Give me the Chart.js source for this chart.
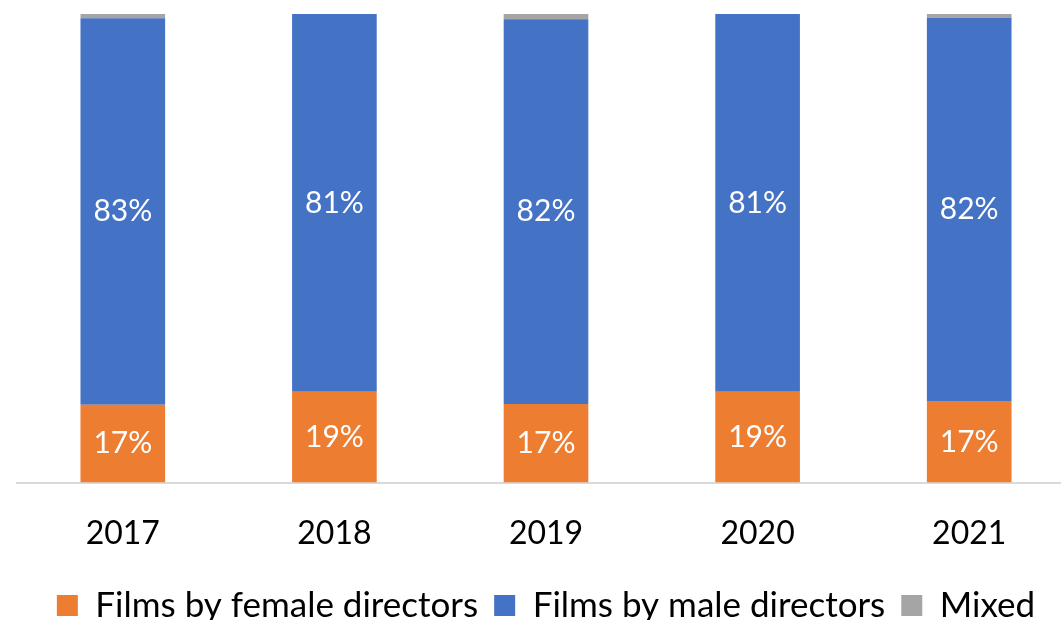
<!DOCTYPE html>
<html lang="en">
<head>
  <meta charset="UTF-8">
  <title>Films by director gender</title>
  <style>
    html, body {
      margin: 0;
      padding: 0;
      background: #fff;
      overflow: hidden;
    }
    .wrap {
      position: relative;
      width: 1092px;
      height: 633px;
    }
  </style>
  <script src="https://cdn.jsdelivr.net/npm/chart.js"></script>
</head>
<body>
  <div class="wrap">
    <canvas id="chart"></canvas>
  </div>
  <script>
    const years = ['2017', '2018', '2019', '2020', '2021'];
    const femaleShare = [16.6, 19.4, 16.8, 19.4, 17.4];
    const maleShare = [82.5, 80.6, 82.1, 80.6, 81.8];
    const mixedShare = [0.9, 0, 1.1, 0, 0.8];

    const FONT = 'Lato, "Open Sans", sans-serif';

    // white percentage labels in the middle of the big segments
    const barLabels = {
      id: 'barLabels',
      afterDatasetsDraw(chart) {
        const ctx = chart.ctx;
        ctx.save();
        ctx.font = '30px ' + FONT;
        ctx.fillStyle = '#ffffff';
        ctx.textAlign = 'center';
        ctx.textBaseline = 'middle';
        chart.data.datasets.forEach((ds, i) => {
          if (!ds.showLabels) return;
          chart.getDatasetMeta(i).data.forEach((bar, j) => {
            const p = bar.getProps(['x', 'y', 'base'], true);
            ctx.fillText(Math.round(ds.data[j]) + '%', p.x, (p.y + p.base) / 2);
          });
        });
        ctx.restore();
      }
    };

    new Chart(document.getElementById('chart'), {
      type: 'bar',
      data: {
        labels: years,
        datasets: [
          { label: 'Films by female directors', data: femaleShare, backgroundColor: '#ED7D31', showLabels: true },
          { label: 'Films by male directors', data: maleShare, backgroundColor: '#4472C4', showLabels: true },
          { label: 'Mixed', data: mixedShare, backgroundColor: '#A5A5A5', showLabels: false }
        ]
      },
      options: {
        responsive: true,
        maintainAspectRatio: false,
        animation: false,
        layout: { padding: { left: 17, right: 17, top: 14, bottom: 0 } },
        datasets: {
          bar: { barPercentage: 0.4, categoryPercentage: 1, borderWidth: 0 }
        },
        scales: {
          x: {
            stacked: true,
            grid: { display: false, drawTicks: false },
            border: { display: true, color: '#D9D9D9', width: 2 },
            ticks: { color: '#000', font: { family: FONT, size: 32 }, padding: 32 },
            // pull the legend a bit closer to the year labels
            afterFit(scale) { scale.height -= 13; }
          },
          y: {
            stacked: true,
            display: false,
            min: 0,
            max: 100
          }
        },
        plugins: {
          legend: {
            position: 'bottom',
            labels: {
              color: '#000',
              font: { family: FONT, size: 35 },
              boxWidth: 21,
              boxHeight: 21,
              padding: 16
            }
          },
          tooltip: { enabled: false }
        }
      },
      plugins: [barLabels]
    });
  </script>
</body>
</html>
